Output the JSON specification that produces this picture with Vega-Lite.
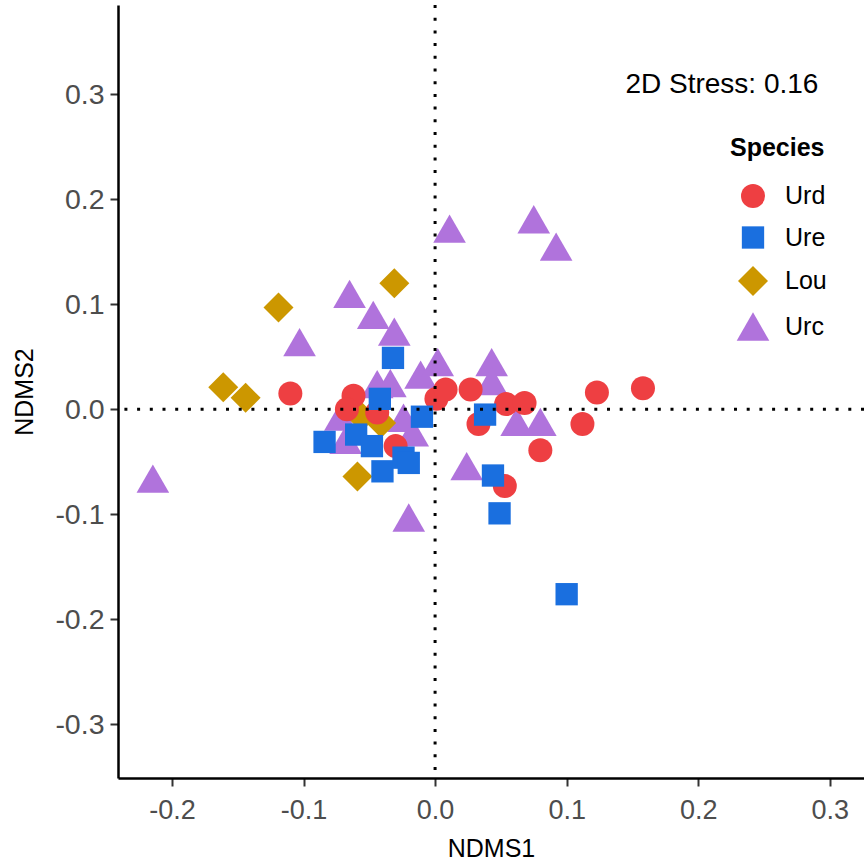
{
  "$schema": "https://vega.github.io/schema/vega-lite/v6.json",
  "width": 746,
  "height": 773,
  "autosize": {"type": "none"},
  "padding": {"left": 118, "top": 5, "right": 0, "bottom": 83},
  "background": "white",
  "config": {
    "view": {"stroke": null},
    "font": "Liberation Sans",
    "axis": {
      "grid": false,
      "domainColor": "black",
      "domainWidth": 2.5,
      "tickColor": "#333333",
      "tickWidth": 2,
      "tickSize": 8,
      "labelColor": "#4D4D4D",
      "labelFont": "Liberation Sans",
      "labelFontSize": 27,
      "labelPadding": 5,
      "titleFont": "Liberation Sans",
      "titleFontSize": 25,
      "titleFontWeight": "normal",
      "titleColor": "black",
      "labelFlush": false,
      "labelOverlap": false
    },
    "legend": {
      "titleFont": "Liberation Sans",
      "titleFontSize": 25,
      "titleFontWeight": "bold",
      "titleColor": "black",
      "labelFont": "Liberation Sans",
      "labelFontSize": 25,
      "labelColor": "black"
    }
  },
  "layer": [
    {
      "data": {
        "values": [
          {"Species": "Urc", "NDMS1": -0.103, "NDMS2": 0.064},
          {"Species": "Urc", "NDMS1": -0.2145, "NDMS2": -0.066},
          {"Species": "Urc", "NDMS1": -0.065, "NDMS2": 0.110},
          {"Species": "Urc", "NDMS1": -0.047, "NDMS2": 0.090},
          {"Species": "Urc", "NDMS1": -0.031, "NDMS2": 0.074},
          {"Species": "Urc", "NDMS1": -0.011, "NDMS2": 0.033},
          {"Species": "Urc", "NDMS1": 0.002, "NDMS2": 0.045},
          {"Species": "Urc", "NDMS1": 0.043, "NDMS2": 0.045},
          {"Species": "Urc", "NDMS1": 0.043, "NDMS2": 0.027},
          {"Species": "Urc", "NDMS1": -0.044, "NDMS2": 0.024},
          {"Species": "Urc", "NDMS1": -0.034, "NDMS2": 0.025},
          {"Species": "Urc", "NDMS1": -0.072, "NDMS2": -0.007},
          {"Species": "Urc", "NDMS1": -0.024, "NDMS2": -0.008},
          {"Species": "Urc", "NDMS1": -0.017, "NDMS2": -0.022},
          {"Species": "Urc", "NDMS1": -0.068, "NDMS2": -0.029},
          {"Species": "Urc", "NDMS1": 0.024, "NDMS2": -0.054},
          {"Species": "Urc", "NDMS1": -0.020, "NDMS2": -0.103},
          {"Species": "Urc", "NDMS1": 0.011, "NDMS2": 0.172},
          {"Species": "Urc", "NDMS1": 0.075, "NDMS2": 0.181},
          {"Species": "Urc", "NDMS1": 0.092, "NDMS2": 0.155},
          {"Species": "Urc", "NDMS1": 0.062, "NDMS2": -0.012},
          {"Species": "Urc", "NDMS1": 0.080, "NDMS2": -0.012},
          {"Species": "Lou", "NDMS1": -0.119, "NDMS2": 0.097},
          {"Species": "Lou", "NDMS1": -0.161, "NDMS2": 0.021},
          {"Species": "Lou", "NDMS1": -0.144, "NDMS2": 0.011},
          {"Species": "Lou", "NDMS1": -0.031, "NDMS2": 0.120},
          {"Species": "Lou", "NDMS1": -0.059, "NDMS2": -0.064},
          {"Species": "Lou", "NDMS1": -0.056, "NDMS2": -0.007},
          {"Species": "Lou", "NDMS1": -0.041, "NDMS2": -0.013},
          {"Species": "Urd", "NDMS1": -0.110, "NDMS2": 0.015},
          {"Species": "Urd", "NDMS1": -0.062, "NDMS2": 0.013},
          {"Species": "Urd", "NDMS1": -0.067, "NDMS2": 0.000},
          {"Species": "Urd", "NDMS1": -0.044, "NDMS2": -0.003},
          {"Species": "Urd", "NDMS1": -0.030, "NDMS2": -0.035},
          {"Species": "Urd", "NDMS1": 0.001, "NDMS2": 0.010},
          {"Species": "Urd", "NDMS1": 0.008, "NDMS2": 0.019},
          {"Species": "Urd", "NDMS1": 0.027, "NDMS2": 0.019},
          {"Species": "Urd", "NDMS1": 0.033, "NDMS2": -0.014},
          {"Species": "Urd", "NDMS1": 0.054, "NDMS2": 0.005},
          {"Species": "Urd", "NDMS1": 0.068, "NDMS2": 0.006},
          {"Species": "Urd", "NDMS1": 0.080, "NDMS2": -0.039},
          {"Species": "Urd", "NDMS1": 0.053, "NDMS2": -0.073},
          {"Species": "Urd", "NDMS1": 0.112, "NDMS2": -0.014},
          {"Species": "Urd", "NDMS1": 0.123, "NDMS2": 0.016},
          {"Species": "Urd", "NDMS1": 0.158, "NDMS2": 0.020},
          {"Species": "Ure", "NDMS1": -0.032, "NDMS2": 0.049},
          {"Species": "Ure", "NDMS1": -0.042, "NDMS2": 0.010},
          {"Species": "Ure", "NDMS1": -0.084, "NDMS2": -0.031},
          {"Species": "Ure", "NDMS1": -0.060, "NDMS2": -0.024},
          {"Species": "Ure", "NDMS1": -0.048, "NDMS2": -0.035},
          {"Species": "Ure", "NDMS1": -0.040, "NDMS2": -0.059},
          {"Species": "Ure", "NDMS1": -0.024, "NDMS2": -0.046},
          {"Species": "Ure", "NDMS1": -0.020, "NDMS2": -0.051},
          {"Species": "Ure", "NDMS1": -0.010, "NDMS2": -0.007},
          {"Species": "Ure", "NDMS1": 0.038, "NDMS2": -0.005},
          {"Species": "Ure", "NDMS1": 0.044, "NDMS2": -0.063},
          {"Species": "Ure", "NDMS1": 0.049, "NDMS2": -0.099},
          {"Species": "Ure", "NDMS1": 0.100, "NDMS2": -0.176}
        ]
      },
      "mark": {"type": "point", "filled": true, "opacity": 1, "size": 576},
      "encoding": {
        "x": {
          "field": "NDMS1", "type": "quantitative",
          "scale": {"domain": [-0.241, 0.326], "nice": false, "zero": false},
          "axis": {"values": [-0.2, -0.1, 0, 0.1, 0.2, 0.3], "format": ".1f", "labelExpr": "replace(datum.label, '\u2212', '-')", "title": "NDMS1", "titlePadding": 13, "labelPadding": 11}
        },
        "y": {
          "field": "NDMS2", "type": "quantitative",
          "scale": {"domain": [-0.351, 0.385], "nice": false, "zero": false},
          "axis": {"values": [-0.3, -0.2, -0.1, 0, 0.1, 0.2, 0.3], "format": ".1f", "labelExpr": "replace(datum.label, '\u2212', '-')", "title": "NDMS2", "titleX": -94, "titleBaseline": "middle", "labelPadding": 6, "labelFontSize": 28.5}
        },
        "color": {
          "field": "Species", "type": "nominal",
          "scale": {"domain": ["Urd", "Ure", "Lou", "Urc"], "range": ["#EE3F42", "#1A6FDF", "#CC9700", "#B073DC"]},
          "legend": {"orient": "none", "legendX": 612, "legendY": 131, "title": "Species", "rowPadding": 15.5, "titlePadding": 22, "symbolOffset": 10, "labelOffset": 19, "symbolSize": 576}
        },
        "shape": {
          "field": "Species", "type": "nominal",
          "scale": {"domain": ["Urd", "Ure", "Lou", "Urc"], "range": ["circle", "M-0.93,-0.93H0.93V0.93H-0.93Z", "M0,-1.25L1.25,0L0,1.25L-1.25,0Z", "M0,-1.18L1.36,1.18L-1.36,1.18Z"]}
        }
      }
    },
    {
      "data": {"values": [{}]},
      "mark": {"type": "rule", "color": "black", "strokeWidth": 3, "strokeDash": [3, 9.7]},
      "encoding": {"x": {"datum": 0}}
    },
    {
      "data": {"values": [{}]},
      "mark": {"type": "rule", "color": "black", "strokeWidth": 3, "strokeDash": [3, 9.7]},
      "encoding": {"y": {"datum": 0}}
    },
    {
      "data": {"values": [{}]},
      "mark": {"type": "text", "fontSize": 28, "font": "Liberation Sans", "color": "black", "align": "center", "baseline": "middle"},
      "encoding": {
        "x": {"datum": 0.218},
        "y": {"datum": 0.309},
        "text": {"value": "2D Stress: 0.16"}
      }
    }
  ]
}
